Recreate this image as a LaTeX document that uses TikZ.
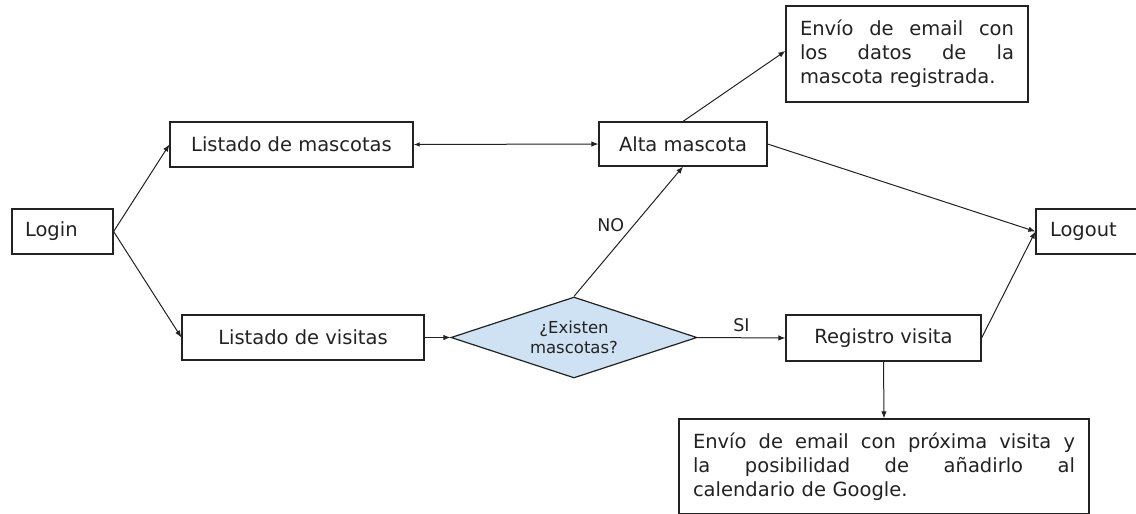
\documentclass[tikz,border=0pt]{standalone}
\usepackage{fontspec}
\setmainfont{DejaVu Sans}
\usetikzlibrary{arrows.meta,shapes.geometric}
\definecolor{inkc}{HTML}{222222}
\definecolor{decfill}{HTML}{CFE2F3}
% a line of text spread over the given width
\newcommand{\spreadline}[2]{\makebox[#1][l]{#2}}
\begin{document}
\begin{tikzpicture}[x=1pt,y=-1pt,
  every node/.style={font=\fontsize{19.5}{24}\selectfont, text=inkc},
  box/.style={draw=inkc, line width=1.2pt, rectangle, inner sep=0pt, minimum height=45pt},
  decision/.style={diamond, aspect=3, draw=inkc, fill=decfill, line width=1.2pt,
    inner sep=0pt, minimum width=246pt, minimum height=81pt, align=center,
    font=\fontsize{16.5}{19.5}\selectfont},
  link/.style={draw=inkc, line width=1pt, -{Latex[length=7pt,width=5.5pt]}},
  twoway/.style={draw=inkc, line width=1pt, {Latex[length=6pt,width=4.5pt]}-{Latex[length=7pt,width=5.5pt]}},
  tag/.style={font=\fontsize{17.5}{20}\selectfont}]
\clip (0,0) rectangle (1136,514);
\fill[white] (0,0) rectangle (1136,514);

% main flow boxes
\node[box, text width=75pt, inner xsep=13pt, align=left] (login) at (62.5,231.5) {Login};
\node[box, minimum width=243pt] (lmasc) at (291.5,144.5) {Listado de mascotas};
\node[box, minimum width=242pt] (lvis) at (303,337.5) {Listado de visitas};
\node[decision] (dec) at (574,337.5) {¿Existen\\mascotas?};
\node[box, minimum width=168pt, minimum height=44pt] (alta) at (683,144) {Alta mascota};
\node[box, minimum width=195pt, minimum height=46pt] (reg) at (883.5,338) {Registro visita};
\node[box, text width=80pt, inner xsep=14pt, align=left] (logout) at (1090,231.5) {Logout};

% notification boxes
\node[box, text width=214pt, inner xsep=14pt, minimum height=96pt, align=left] (mail1) at (907,54)
  {\spreadline{214pt}{Envío\hfill de\hfill email\hfill con}\\
   \spreadline{214pt}{los\hfill datos\hfill de\hfill la}\\
   mascota registrada.};
\node[box, text width=382pt, inner xsep=14pt, minimum height=95pt, align=left] (mail2) at (884,466.5)
  {\spreadline{382pt}{Envío\hfill de\hfill email\hfill con\hfill próxima\hfill visita\hfill y}\\
   \spreadline{382pt}{la\hfill posibilidad\hfill de\hfill añadirlo\hfill al}\\
   calendario de Google.};

% connectors
\draw[link] (login.east) -- (lmasc.west);
\draw[link] (login.east) -- (lvis.west);
\draw[twoway] (lmasc.east) -- (alta.west);
\draw[link] (lvis.east) -- (dec.west);
\draw[link] (dec.north) -- node[tag, pos=0.55, left=6pt] {NO} (alta.south);
\draw[link] (dec.east) -- node[tag, above=2pt] {SI} (reg.west);
\draw[link] (alta.north) -- ([yshift=3pt]mail1.west);
\draw[link] (alta.east) -- (logout.west);
\draw[link] (reg.east) -- (logout.west);
\draw[link] (reg.south) -- (mail2.north);
\end{tikzpicture}
\end{document}
